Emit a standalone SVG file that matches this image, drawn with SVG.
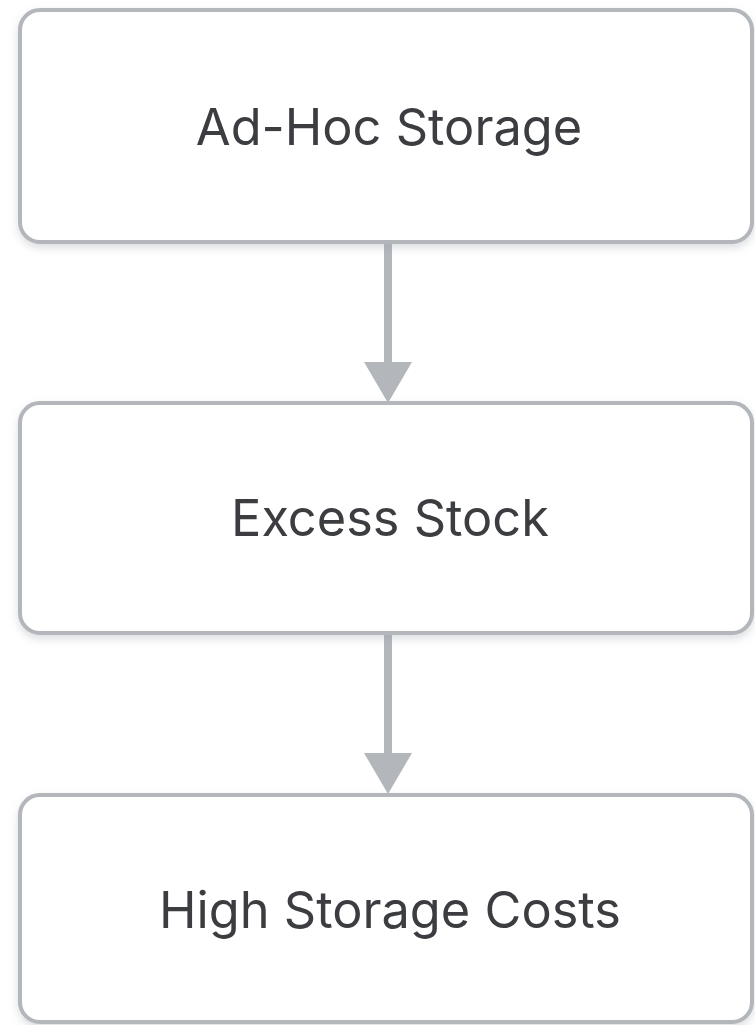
<svg xmlns="http://www.w3.org/2000/svg" width="755" height="1025" viewBox="0 0 755 1025">
<defs>
<style>
.box{fill:#ffffff;stroke:#b3b6bb;stroke-width:4}
.lbl{font-family:Inter,"Liberation Sans",sans-serif;font-size:50.5px;fill:#3b3d40;text-anchor:middle}
.edge{stroke:#b3b6bb;stroke-width:8;fill:none}
.head{fill:#b3b6bb}
</style>
<filter id="sh" x="-5%" y="-5%" width="110%" height="115%">
<feDropShadow dx="0" dy="4" stdDeviation="4" flood-color="#9aa0a8" flood-opacity="0.35"/>
</filter>
</defs>
<rect width="755" height="1025" fill="#ffffff"/>
<g id="connectors">
<line class="edge" x1="388" y1="242" x2="388" y2="364"/>
<polygon class="head" points="364,362 412,362 388,403"/>
<line class="edge" x1="388" y1="633" x2="388" y2="755"/>
<polygon class="head" points="364,753 412,753 388,794"/>
</g>
<g id="node1">
<rect class="box" x="20" y="10" width="732" height="232" rx="20" filter="url(#sh)"/>
<text class="lbl" x="389" y="145">Ad-Hoc Storage</text>
</g>
<g id="node2">
<rect class="box" x="20" y="403" width="732" height="230" rx="20" filter="url(#sh)"/>
<text class="lbl" x="390" y="536">Excess Stock</text>
</g>
<g id="node3">
<rect class="box" x="20" y="795" width="732" height="227" rx="20" filter="url(#sh)"/>
<text class="lbl" x="390" y="928">High Storage Costs</text>
</g>
</svg>
